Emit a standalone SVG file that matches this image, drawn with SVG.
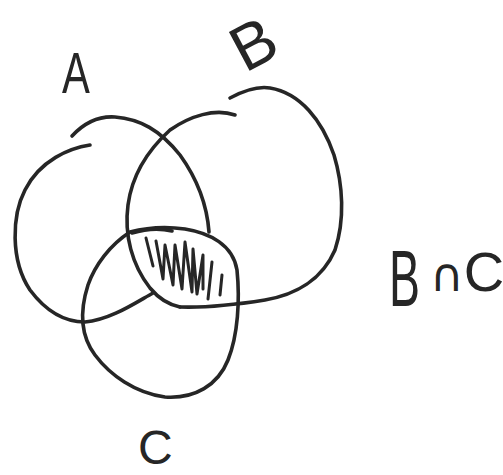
<svg xmlns="http://www.w3.org/2000/svg" width="503" height="475" viewBox="0 0 503 475">
<style>
.ln{fill:none;stroke:#262626;stroke-width:3.6;stroke-linecap:round;stroke-linejoin:round}
.ht{fill:none;stroke:#262626;stroke-width:3;stroke-linecap:round;stroke-linejoin:round}
.lb{font-family:"Liberation Sans","DejaVu Sans",sans-serif;fill:#262626}
.mt{font-family:"DejaVu Sans",sans-serif}
</style>
<rect width="503" height="475" fill="#ffffff"/>
<g id="set-A">
<path class="ln" d="M72,136 C85,122 100,116 115,117 C140,119 160,130 180,155 C198,180 207,205 209,232"/>
<path class="ln" d="M90,145 C70,148 40,160 25,190 C12,215 10,260 30,290 C45,310 62,322 85,322 C110,320 135,303 153,293"/>
</g>
<g id="set-B">
<path class="ln" d="M230,98 C245,90 258,86 270,88 C300,93 322,120 334,155 C343,185 345,220 335,250 C322,280 295,295 265,300 C240,304 210,308 180,307"/>
<path class="ln" d="M235,115 C215,108 190,116 170,130 C148,150 132,175 128,205 C124,235 132,265 150,288 C160,300 170,305 180,307"/>
</g>
<g id="set-C">
<path class="ln" d="M130,232 C110,245 95,265 88,285 C80,310 80,335 95,355 C110,375 135,393 165,397 C195,399 218,385 228,360 C238,335 240,300 237,270 C233,245 210,233 185,229 C165,226 145,228 130,232 Z"/>
</g>
<g id="shading-BnC">
<path class="ln" d="M132,233 C145,229 160,228 172,231"/>
<path class="ht" d="M146,238 L153,266 M156,241 L163,279 L165,245 L173,285 L175,245 L182,289 L185,242 L192,292 L193,249 L197,294 L203,255 L203,289 M212,262 L208,299 M222,275 L220,295"/>
</g>
<g id="labels">
<text class="lb" font-size="58" text-anchor="middle" transform="translate(76,93) scale(0.72,1)">A</text>
<text class="lb" font-size="64" text-anchor="middle" transform="translate(253,43) rotate(-28) translate(0,23)">B</text>
<text class="lb" font-size="80" transform="translate(389,306) scale(0.58,1)">B</text>
<text class="lb" x="430" y="291"><tspan class="mt" font-size="46">∩</tspan><tspan font-size="56">C</tspan></text>
<text class="lb" font-size="48" x="138" y="464">C</text>
</g>
</svg>
